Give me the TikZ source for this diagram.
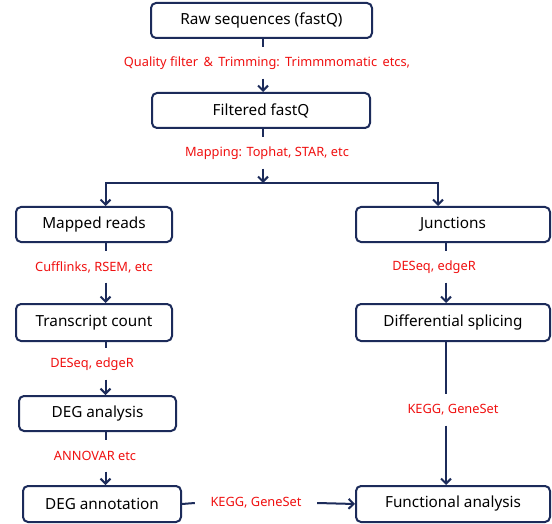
\documentclass[tikz,border=0pt]{standalone}
\usepackage{fontspec}
\setmainfont{Noto Sans}
\usetikzlibrary{arrows.meta}
\definecolor{navy}{HTML}{1C2B5A}
\definecolor{lbl}{HTML}{F01010}
\newcommand{\wsp}{\hspace{0.42em}}
\tikzset{
  box/.style={draw=navy, line width=2pt, rounded corners=5pt, rectangle, inner sep=0pt,
    minimum height=35pt, font=\fontsize{15.3}{17}\selectfont, text=black},
  lab/.style={inner sep=0pt, minimum height=31pt, text=lbl, font=\fontsize{12.8}{14}\selectfont},
  conn/.style={draw=navy, line width=2pt},
  arr/.style={conn, -{Straight Barb[length=5pt,width=10pt]}}
}
\begin{document}
\begin{tikzpicture}[x=1pt,y=-1pt]
\useasboundingbox (0,0) rectangle (552,524);
\fill[white] (0,0) rectangle (552,524);
% columns
\coordinate (mc) at (263,0);
\coordinate (lc) at (105.5,0);
\coordinate (jc) at (438,0);
\coordinate (rc) at (446,0);
\coordinate (split) at (263,183);
% boxes
\node[box, minimum width=221pt] (raw) at (261.5,20.5) {Raw sequences (fastQ)};
\node[box, minimum width=218pt] (filt) at (261,110.5) {Filtered fastQ};
\node[box, minimum width=156pt] (mapped) at (94,224.5) {Mapped reads};
\node[box, minimum width=194pt] (junc) at (453,224.5) {Junctions};
\node[box, minimum width=156pt, minimum height=37pt] (trans) at (94,322.5) {Transcript count};
\node[box, minimum width=194pt, minimum height=37pt] (diffs) at (453,322.5) {Differential splicing};
\node[box, minimum width=157pt] (dega) at (97.5,413.5) {DEG analysis};
\node[box, minimum width=158pt, minimum height=36pt] (degann) at (102,504) {DEG annotation};
\node[box, minimum width=194pt, minimum height=36pt] (func) at (453,504) {Functional analysis};
% labels
\node[lab] (l1) at (267,63) {Quality filter\wsp\&\wsp Trimming:\wsp Trimmmomatic\wsp etcs,};
\node[lab] (l2) at (267,153) {Mapping: Tophat, STAR, etc};
\node[lab] (l3) at (94,267) {Cufflinks, RSEM, etc};
\node[lab] (l4) at (92,364) {DESeq, edgeR};
\node[lab] (l5) at (95,456) {ANNOVAR etc};
\node[lab] (l6) at (434,267) {DESeq, edgeR};
\node[lab] (l7) at (453,410) {KEGG, GeneSet};
\node[lab, minimum width=122pt] (l8) at (256,503) {KEGG, GeneSet};
% connectors
\draw[conn] (raw.south -| mc) -- (l1.north -| mc);
\draw[arr] (l1.south -| mc) -- (filt.north -| mc);
\draw[conn] (filt.south -| mc) -- (l2.north -| mc);
\draw[arr] (l2.south -| mc) -- (split);
\draw[arr] (split) -| (mapped.north -| lc);
\draw[arr] (split) -| (junc.north -| jc);
\draw[conn] (mapped.south -| lc) -- (l3.north -| lc);
\draw[arr] (l3.south -| lc) -- (trans.north -| lc);
\draw[conn] (trans.south -| lc) -- (l4.north -| lc);
\draw[arr] (l4.south -| lc) -- (dega.north -| lc);
\draw[conn] (dega.south -| lc) -- (l5.north -| lc);
\draw[arr] (l5.south -| lc) -- (degann.north -| lc);
\draw[conn] (junc.south -| rc) -- (l6.north -| rc);
\draw[arr] (l6.south -| rc) -- (diffs.north -| rc);
\draw[conn] (diffs.south -| rc) -- (l7.north -| rc);
\draw[arr] (l7.south -| rc) -- (func.north -| rc);
\draw[conn] (degann.east) -- (l8.west);
\draw[arr] (l8.east) -- (func.west);
\end{tikzpicture}
\end{document}
